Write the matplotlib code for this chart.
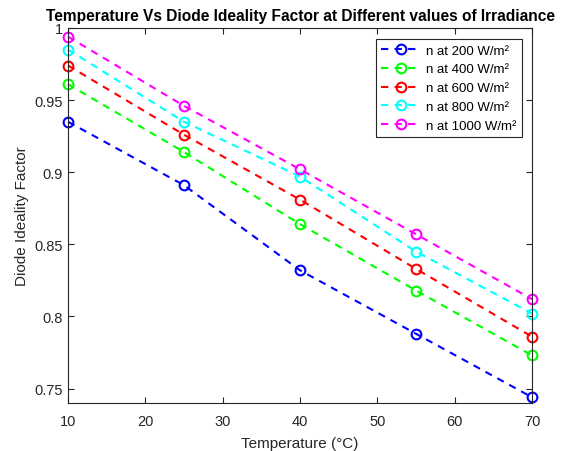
import matplotlib
matplotlib.use("Agg")
import matplotlib.pyplot as plt

temperature = [10, 25, 40, 55, 70]
n_200 = [0.935, 0.891, 0.832, 0.788, 0.744]
n_400 = [0.961, 0.914, 0.864, 0.818, 0.773]
n_600 = [0.974, 0.926, 0.881, 0.833, 0.786]
n_800 = [0.985, 0.935, 0.897, 0.845, 0.802]
n_1000 = [0.994, 0.946, 0.902, 0.857, 0.812]
labels = ["n at 200 W/m²", "n at 400 W/m²", "n at 600 W/m²", "n at 800 W/m²", "n at 1000 W/m²"]
colors = ["#0000ff", "#00ff00", "#ff0000", "#00ffff", "#ff00ff"]
xticks = [10, 20, 30, 40, 50, 60, 70]
yticks = [0.75, 0.8, 0.85, 0.9, 0.95, 1.0]
yticklabels = ["0.75", "0.8", "0.85", "0.9", "0.95", "1"]

plt.rcParams['font.family'] = ['Liberation Sans', 'DejaVu Sans']
fig = plt.figure(figsize=(5.63, 4.52), dpi=100)
ax = fig.add_axes([68/563, 1-404/452, (532-68)/563, (404-29)/452])

series = [n_200, n_400, n_600, n_800, n_1000]
for vals, lab, c in zip(series, labels, colors):
    ax.plot(temperature, vals, linestyle='--', marker='o', color=c, lw=1.5,
            markersize=7, markerfacecolor='none', markeredgewidth=1.5, label=lab,
            dashes=(3.5, 3), clip_on=False)

ax.set_xlim(10, 70)
ax.set_ylim(0.74, 1.0)
ax.set_xticks(xticks)
ax.set_yticks(yticks)
ax.set_yticklabels(yticklabels)
gray = '#262626'
for s in ax.spines.values():
    s.set_color(gray)
    s.set_linewidth(0.8)
ax.tick_params(direction='in', top=True, right=True, colors=gray, labelsize=10.5, length=4, width=0.8)
ax.tick_params(axis='x', pad=8)
ax.set_xlabel("Temperature (°C)", fontsize=11, color=gray, labelpad=6)
ax.set_ylabel("Diode Ideality Factor", fontsize=11, color=gray)
ax.set_title("Temperature Vs Diode Ideality Factor at Different values of Irradiance",
             fontsize=11.2, fontweight='bold', pad=6)
leg = ax.legend(loc='upper right', fontsize=9.5,
                handlelength=3.0, handletextpad=0.4, fancybox=False, edgecolor=gray,
                framealpha=1, borderaxespad=0, labelspacing=0.5)
leg.set_bbox_to_anchor((522/563, 1-40/452), transform=fig.transFigure)
leg.get_frame().set_linewidth(0.8)

fig.savefig("out.png", dpi=100)
